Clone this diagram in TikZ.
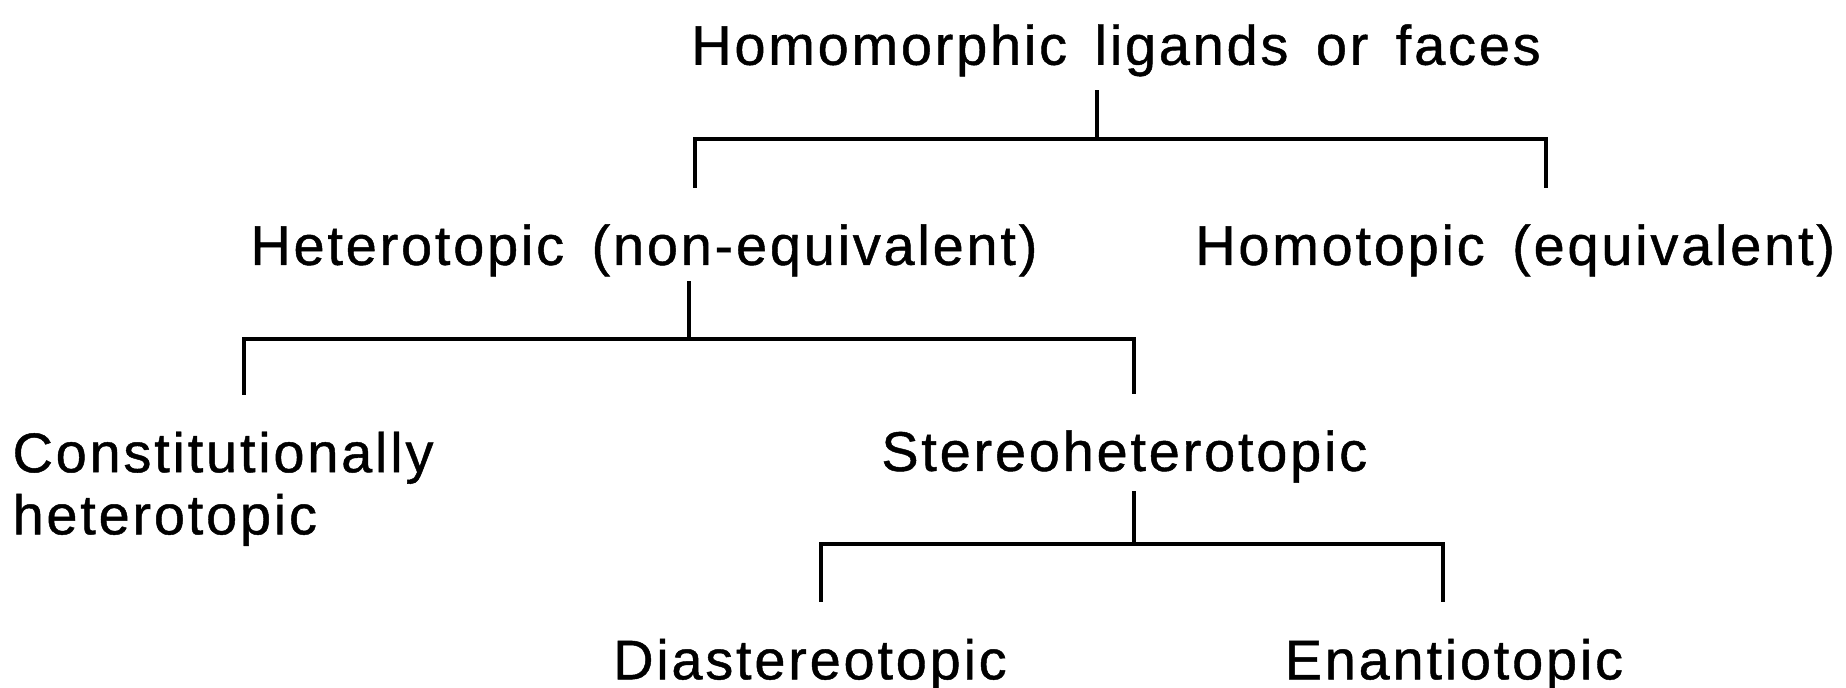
\documentclass[tikz,border=0pt]{standalone}
\usepackage{fontspec}
\setmainfont[LetterSpace=5,WordSpace=1.5,FakeBold=0.8]{Liberation Sans}
\usepackage{tikz}
\tikzstyle{term} = [font=\fontsize{13.5}{15}\selectfont, inner sep=0pt]
\tikzstyle{branch} = [line width=1pt, line cap=rect]
\tikzstyle{drop} = [branch, shorten <=0.32cm, shorten >=0.32cm]

\begin{document}
\begin{tikzpicture}[x=0.01cm,y=-0.01cm]
  \useasboundingbox (0,0) rectangle (1568,584);
  % terms
  \node[term, anchor=base] (top) at (948,55) {Homomorphic ligands or faces};
  \node[term, anchor=base] (het) at (547,225) {Heterotopic (non-equivalent)};
  \node[term, anchor=base] (hom) at (1287,225) {Homotopic (equivalent)};
  \node[term, anchor=north west, align=left] (con) at (10,366) {Constitutionally\\heterotopic};
  \node[term, anchor=base] (ste) at (955,400) {Stereoheterotopic};
  \node[term, anchor=base] (dia) at (688,577) {Diastereotopic};
  \node[term, anchor=base] (ena) at (1235,577) {Enantiotopic};
  % junctions
  \coordinate (j1) at (932,118);
  \coordinate (j2) at (585,288);
  \coordinate (j3) at (963,462);
  % branches
  \draw[branch, shorten <=0.13cm] (top.south -| j1) -- (j1);
  \draw[drop] ([xshift=0.43cm]het.north) |- (j1) -| ([xshift=0.26cm]hom.north);
  \draw[branch, shorten <=0.05cm] (het.south -| j2) -- (j2);
  \draw[drop] ([xshift=0.18cm]con.north) |- (j2) -| ([xshift=0.08cm]ste.north);
  \draw[branch, shorten <=0.08cm] (ste.south -| j3) -- (j3);
  \draw[drop] ([xshift=0.09cm]dia.north) |- (j3) -| ([xshift=-0.09cm]ena.north);
\end{tikzpicture}
\end{document}
